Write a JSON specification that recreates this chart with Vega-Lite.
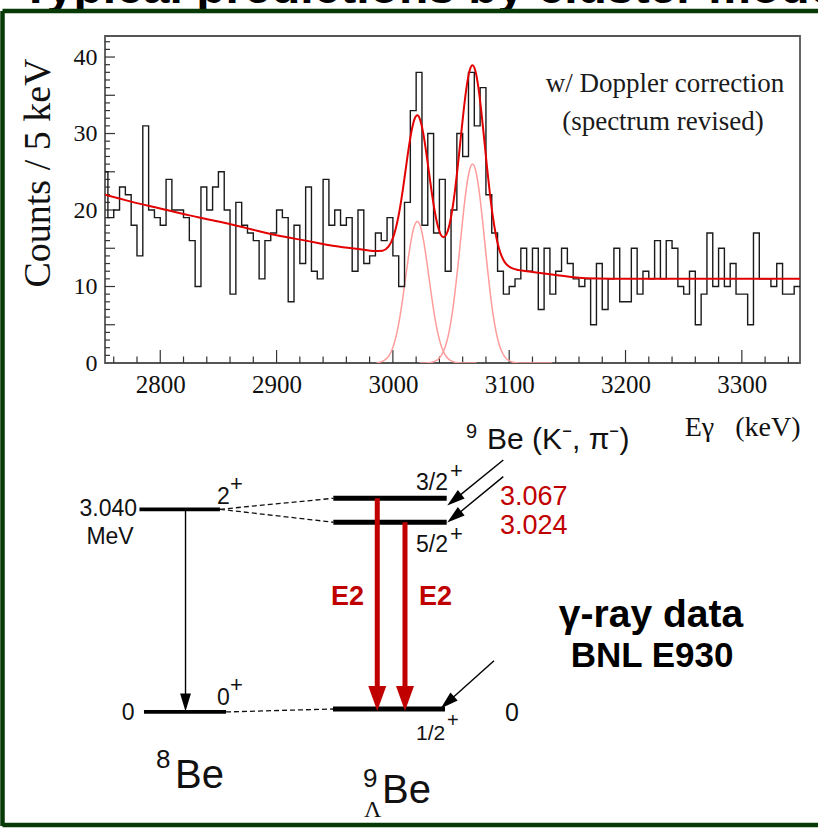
{
  "$schema": "https://vega.github.io/schema/vega-lite/v6.json",
  "width": 695,
  "height": 327,
  "autosize": {"type": "none"},
  "padding": {"left": 105, "top": 36, "right": 18, "bottom": 466},
  "background": "white",
  "config": {"view": {"stroke": null}},
  "datasets": {
    "hist": [
      {"E":2750,"c":25},{"E":2755,"c":19},{"E":2760,"c":20},{"E":2765,"c":23},{"E":2770,"c":22},{"E":2775,"c":18},{"E":2780,"c":14},{"E":2785,"c":31},{"E":2790,"c":20},{"E":2795,"c":19},
      {"E":2800,"c":18},{"E":2805,"c":24},{"E":2810,"c":20},{"E":2815,"c":20},{"E":2820,"c":19},{"E":2825,"c":16},{"E":2830,"c":10},{"E":2835,"c":23},{"E":2840,"c":20},{"E":2845,"c":23},
      {"E":2850,"c":25},{"E":2855,"c":20},{"E":2860,"c":9},{"E":2865,"c":21},{"E":2870,"c":18},{"E":2875,"c":17},{"E":2880,"c":16},{"E":2885,"c":11},{"E":2890,"c":16},{"E":2895,"c":17},
      {"E":2900,"c":20},{"E":2905,"c":19},{"E":2910,"c":8},{"E":2915,"c":18},{"E":2920,"c":13},{"E":2925,"c":23},{"E":2930,"c":12},{"E":2935,"c":11},{"E":2940,"c":24},{"E":2945,"c":18},
      {"E":2950,"c":20},{"E":2955,"c":18},{"E":2960,"c":19},{"E":2965,"c":12},{"E":2970,"c":20},{"E":2975,"c":13},{"E":2980,"c":14},{"E":2985,"c":17},{"E":2990,"c":16},{"E":2995,"c":19},
      {"E":3000,"c":14},{"E":3005,"c":10},{"E":3010,"c":21},{"E":3015,"c":33},{"E":3020,"c":38},{"E":3025,"c":18},{"E":3030,"c":30},{"E":3035,"c":17},{"E":3040,"c":24},{"E":3045,"c":12},
      {"E":3050,"c":20},{"E":3055,"c":30},{"E":3060,"c":27},{"E":3065,"c":38},{"E":3070,"c":31},{"E":3075,"c":36},{"E":3080,"c":22},{"E":3085,"c":17},{"E":3090,"c":12},{"E":3095,"c":9},
      {"E":3100,"c":10},{"E":3105,"c":11},{"E":3110,"c":15},{"E":3115,"c":12},{"E":3120,"c":15},{"E":3125,"c":7},{"E":3130,"c":15},{"E":3135,"c":9},{"E":3140,"c":12},{"E":3145,"c":15},
      {"E":3150,"c":13},{"E":3155,"c":11},{"E":3160,"c":10},{"E":3165,"c":11},{"E":3170,"c":5},{"E":3175,"c":13},{"E":3180,"c":7},{"E":3185,"c":11},{"E":3190,"c":15},{"E":3195,"c":8},
      {"E":3200,"c":8},{"E":3205,"c":15},{"E":3210,"c":9},{"E":3215,"c":12},{"E":3220,"c":11},{"E":3225,"c":16},{"E":3230,"c":11},{"E":3235,"c":16},{"E":3240,"c":15},{"E":3245,"c":10},
      {"E":3250,"c":9},{"E":3255,"c":12},{"E":3260,"c":5},{"E":3265,"c":9},{"E":3270,"c":17},{"E":3275,"c":10},{"E":3280,"c":15},{"E":3285,"c":10},{"E":3290,"c":13},{"E":3295,"c":9},
      {"E":3300,"c":9},{"E":3305,"c":5},{"E":3310,"c":17},{"E":3315,"c":11},{"E":3320,"c":11},{"E":3325,"c":10},{"E":3330,"c":13},{"E":3335,"c":9},{"E":3340,"c":9},{"E":3345,"c":10},{"E":3350,"c":10}
    ],
    "fit": [
      {"E":2752.5,"c":22.0},{"E":2775,"c":21.1},{"E":2800,"c":20.2},{"E":2825,"c":19.3},{"E":2850,"c":18.5},{"E":2875,"c":17.6},{"E":2900,"c":16.7},{"E":2925,"c":16.0},{"E":2950,"c":15.3},{"E":2970,"c":14.9},
      {"E":2985,"c":14.63},{"E":2991,"c":14.69},{"E":2996,"c":15.19},{"E":2998.5,"c":15.8},{"E":3001,"c":16.78},{"E":3003.5,"c":18.23},{"E":3006,"c":20.18},{"E":3008.5,"c":22.6},{"E":3011,"c":25.3},{"E":3013.5,"c":27.99},
      {"E":3016,"c":30.3},{"E":3018.5,"c":31.86},{"E":3021,"c":32.38},{"E":3023.5,"c":31.76},{"E":3026,"c":30.11},{"E":3028.5,"c":27.71},{"E":3031,"c":24.94},{"E":3033.5,"c":22.2},{"E":3036,"c":19.8},{"E":3038.5,"c":17.97},
      {"E":3041,"c":16.82},{"E":3043.5,"c":16.43},{"E":3046,"c":16.81},{"E":3048.5,"c":17.99},{"E":3051,"c":19.97},{"E":3053.5,"c":22.71},{"E":3056,"c":26.02},{"E":3058.5,"c":29.66},{"E":3061,"c":33.23},{"E":3063.5,"c":36.24},
      {"E":3066,"c":38.25},{"E":3068.5,"c":38.93},{"E":3071,"c":38.15},{"E":3073.5,"c":36.04},{"E":3076,"c":32.93},{"E":3078.5,"c":29.26},{"E":3081,"c":25.48},{"E":3083.5,"c":22.02},{"E":3086,"c":19.06},{"E":3088.5,"c":16.77},
      {"E":3091,"c":15.1},{"E":3093.5,"c":13.96},{"E":3096,"c":13.22},{"E":3098.5,"c":12.77},{"E":3101,"c":12.5},{"E":3106,"c":12.22},{"E":3111,"c":12.08},{"E":3120,"c":11.9},{"E":3130,"c":11.7},{"E":3140,"c":11.5},
      {"E":3150,"c":11.3},{"E":3160,"c":11.15},{"E":3175,"c":11.05},{"E":3200,"c":11.0},{"E":3250,"c":11.0},{"E":3300,"c":11.0},{"E":3350,"c":11.0}
    ],
    "g1": [
      {"E":2986,"c":0.04},{"E":2991,"c":0.21},{"E":2996,"c":0.81},{"E":2998.5,"c":1.47},{"E":3001,"c":2.5},{"E":3003.5,"c":4.0},{"E":3006,"c":6.0},{"E":3008.5,"c":8.47},{"E":3011,"c":11.22},{"E":3013.5,"c":13.96},
      {"E":3016,"c":16.32},{"E":3018.5,"c":17.93},{"E":3021,"c":18.5},{"E":3023.5,"c":17.93},{"E":3026,"c":16.32},{"E":3028.5,"c":13.96},{"E":3031,"c":11.22},{"E":3033.5,"c":8.47},{"E":3036,"c":6.0},{"E":3038.5,"c":4.0},
      {"E":3041,"c":2.5},{"E":3043.5,"c":1.47},{"E":3046,"c":0.81},{"E":3051,"c":0.21},{"E":3056,"c":0.04},{"E":3061,"c":0.0},{"E":3072,"c":0.0}
    ],
    "g2": [
      {"E":3023,"c":0.0},{"E":3031,"c":0.04},{"E":3036,"c":0.22},{"E":3041,"c":0.84},{"E":3043.5,"c":1.53},{"E":3046,"c":2.62},{"E":3048.5,"c":4.24},{"E":3051,"c":6.48},{"E":3053.5,"c":9.39},{"E":3056,"c":12.8},
      {"E":3058.5,"c":16.53},{"E":3061,"c":20.15},{"E":3063.5,"c":23.21},{"E":3066,"c":25.27},{"E":3068.5,"c":26.0},{"E":3071,"c":25.27},{"E":3073.5,"c":23.21},{"E":3076,"c":20.15},{"E":3078.5,"c":16.53},{"E":3081,"c":12.8},
      {"E":3083.5,"c":9.39},{"E":3086,"c":6.48},{"E":3088.5,"c":4.24},{"E":3091,"c":2.62},{"E":3093.5,"c":1.53},{"E":3096,"c":0.84},{"E":3101,"c":0.22},{"E":3106,"c":0.04},{"E":3111,"c":0.01},{"E":3137,"c":0.0}
    ],
    "frame": [{"x1":2752.5,"x2":3350,"y1":0,"y2":42.75}],
    "yminor": [{"v":1},{"v":2},{"v":3},{"v":4},{"v":6},{"v":7},{"v":8},{"v":9},{"v":11},{"v":12},{"v":13},{"v":14},{"v":16},{"v":17},{"v":18},{"v":19},{"v":21},{"v":22},{"v":23},{"v":24},{"v":26},{"v":27},{"v":28},{"v":29},{"v":31},{"v":32},{"v":33},{"v":34},{"v":36},{"v":37},{"v":38},{"v":39},{"v":41},{"v":42}],
    "ymajor": [{"v":5},{"v":10},{"v":15},{"v":20},{"v":25},{"v":30},{"v":35},{"v":40}],
    "xminor": [{"v":2760},{"v":2780},{"v":2820},{"v":2840},{"v":2860},{"v":2880},{"v":2920},{"v":2940},{"v":2960},{"v":2980},{"v":3020},{"v":3040},{"v":3060},{"v":3080},{"v":3120},{"v":3140},{"v":3160},{"v":3180},{"v":3220},{"v":3240},{"v":3260},{"v":3280},{"v":3320},{"v":3340}],
    "xmajor": [{"v":2800},{"v":2900},{"v":3000},{"v":3100},{"v":3200},{"v":3300}],
    "border": [{"u":0.306,"v":98.67,"u2":0.306,"v2":0.362},{"u":0.306,"v":98.67,"u2":100.5,"v2":98.67},{"u":0.306,"v":0.483,"u2":100.5,"v2":0.483}],
    "lev8": [{"u":17.05,"v":38.56,"u2":26.89,"v2":38.56},{"u":17.6,"v":14.11,"u2":27.63,"v2":14.11}],
    "lev9": [{"u":40.75,"v":39.89,"u2":54.61,"v2":39.89},{"u":40.75,"v":37.0,"u2":54.61,"v2":37.0},{"u":40.71,"v":14.47,"u2":54.4,"v2":14.47}],
    "dashed": [{"u":26.89,"v":38.56,"u2":40.75,"v2":39.89},{"u":26.89,"v":38.56,"u2":40.75,"v2":37.0},{"u":27.63,"v":14.11,"u2":40.71,"v2":14.47}],
    "bshaft": [{"u":22.68,"v":38.48,"u2":22.68,"v2":16.04},{"u":61.53,"v":44.51,"u2":55.53,"v2":39.7},{"u":61.53,"v":42.5,"u2":55.53,"v2":37.64},{"u":60.39,"v":20.3,"u2":54.69,"v2":15.24}],
    "bhead": [{"u":22.68,"v":15.26,"a":0},{"u":55.53,"v":39.7,"a":51},{"u":55.53,"v":37.64,"a":51},{"u":54.69,"v":15.24,"a":48}],
    "rshaft": [{"u":46.12,"v":39.89,"u2":46.12,"v2":16.77},{"u":49.51,"v":37.0,"u2":49.51,"v2":16.77}],
    "rhead": [{"u":46.12,"v":15.74},{"u":49.51,"v":15.74}]
  },
  "layer": [
    {
      "data": {"name": "frame"},
      "mark": {"type": "rect", "filled": false, "stroke": "#555555", "strokeWidth": 1.8},
      "encoding": {
        "x": {"field": "x1", "type": "quantitative", "scale": {"domain": [2752.5, 3350], "nice": false, "zero": false},
              "axis": {"orient": "bottom", "values": [2800, 2900, 3000, 3100, 3200, 3300], "format": "d", "ticks": false, "domain": false, "grid": false, "labelFont": "Liberation Serif", "labelFontSize": 25, "labelColor": "#111", "labelPadding": 9, "title": "E\u03b3\u00a0\u00a0\u00a0(keV)", "titleFont": "Liberation Serif", "titleFontSize": 28, "titleFontWeight": "normal", "titleColor": "#111", "titleAnchor": "end", "titlePadding": 16}},
        "x2": {"field": "x2"},
        "y": {"field": "y1", "type": "quantitative", "scale": {"domain": [0, 42.75], "nice": false, "zero": false},
              "axis": {"orient": "left", "values": [0, 10, 20, 30, 40], "ticks": false, "domain": false, "grid": false, "labelFont": "Liberation Serif", "labelFontSize": 24, "labelColor": "#111", "labelPadding": 8, "title": "Counts / 5 keV", "titleFont": "Liberation Serif", "titleFontSize": 38, "titleFontWeight": "normal", "titleColor": "#111", "titleAnchor": "end", "titleY": 22, "titlePadding": 16}},
        "y2": {"field": "y2"}
      }
    },
    {
      "data": {"name": "yminor"},
      "mark": {"type": "rule", "color": "#333", "strokeWidth": 1.2},
      "encoding": {
        "y": {"field": "v", "type": "quantitative", "scale": {"domain": [0, 42.75], "nice": false, "zero": false}, "axis": null},
        "x": {"datum": 2752.5, "type": "quantitative", "scale": {"domain": [2752.5, 3350], "nice": false, "zero": false}, "axis": null},
        "x2": {"datum": 2756.8}
      }
    },
    {
      "data": {"name": "ymajor"},
      "mark": {"type": "rule", "color": "#333", "strokeWidth": 1.2},
      "encoding": {
        "y": {"field": "v", "type": "quantitative", "scale": {"domain": [0, 42.75], "nice": false, "zero": false}, "axis": null},
        "x": {"datum": 2752.5, "type": "quantitative", "scale": {"domain": [2752.5, 3350], "nice": false, "zero": false}, "axis": null},
        "x2": {"datum": 2761.1}
      }
    },
    {
      "data": {"name": "xminor"},
      "mark": {"type": "rule", "color": "#333", "strokeWidth": 1.2},
      "encoding": {
        "x": {"field": "v", "type": "quantitative", "scale": {"domain": [2752.5, 3350], "nice": false, "zero": false}, "axis": null},
        "y": {"datum": 0, "type": "quantitative", "scale": {"domain": [0, 42.75], "nice": false, "zero": false}, "axis": null},
        "y2": {"datum": 0.85}
      }
    },
    {
      "data": {"name": "xmajor"},
      "mark": {"type": "rule", "color": "#333", "strokeWidth": 1.2},
      "encoding": {
        "x": {"field": "v", "type": "quantitative", "scale": {"domain": [2752.5, 3350], "nice": false, "zero": false}, "axis": null},
        "y": {"datum": 0, "type": "quantitative", "scale": {"domain": [0, 42.75], "nice": false, "zero": false}, "axis": null},
        "y2": {"datum": 1.7}
      }
    },
    {
      "data": {"name": "g1"},
      "mark": {"type": "line", "interpolate": "monotone", "color": "#ff9c9c", "strokeWidth": 1.5, "clip": true},
      "encoding": {
        "x": {"field": "E", "type": "quantitative", "scale": {"domain": [2752.5, 3350], "nice": false, "zero": false}, "axis": null},
        "y": {"field": "c", "type": "quantitative", "scale": {"domain": [0, 42.75], "nice": false, "zero": false}, "axis": null}
      }
    },
    {
      "data": {"name": "g2"},
      "mark": {"type": "line", "interpolate": "monotone", "color": "#ff9c9c", "strokeWidth": 1.5, "clip": true},
      "encoding": {
        "x": {"field": "E", "type": "quantitative", "scale": {"domain": [2752.5, 3350], "nice": false, "zero": false}, "axis": null},
        "y": {"field": "c", "type": "quantitative", "scale": {"domain": [0, 42.75], "nice": false, "zero": false}, "axis": null}
      }
    },
    {
      "data": {"name": "hist"},
      "mark": {"type": "line", "interpolate": "step-after", "color": "#1a1a1a", "strokeWidth": 1.4, "clip": true},
      "encoding": {
        "x": {"field": "E", "type": "quantitative", "scale": {"domain": [2752.5, 3350], "nice": false, "zero": false}, "axis": null},
        "y": {"field": "c", "type": "quantitative", "scale": {"domain": [0, 42.75], "nice": false, "zero": false}, "axis": null}
      }
    },
    {
      "data": {"name": "fit"},
      "mark": {"type": "line", "interpolate": "monotone", "color": "#e30000", "strokeWidth": 2, "clip": true},
      "encoding": {
        "x": {"field": "E", "type": "quantitative", "scale": {"domain": [2752.5, 3350], "nice": false, "zero": false}, "axis": null},
        "y": {"field": "c", "type": "quantitative", "scale": {"domain": [0, 42.75], "nice": false, "zero": false}, "axis": null}
      }
    },
    {
      "data": {"values": [{"E": 3233.9, "c": 36.47, "t": "w/ Doppler correction"}, {"E": 3232.2, "c": 31.51, "t": "(spectrum revised)"}]},
      "mark": {"type": "text", "font": "Liberation Serif", "fontSize": 27, "align": "center", "baseline": "middle", "color": "#1a1a1a"},
      "encoding": {
        "x": {"field": "E", "type": "quantitative", "scale": {"domain": [2752.5, 3350], "nice": false, "zero": false}, "axis": null},
        "y": {"field": "c", "type": "quantitative", "scale": {"domain": [0, 42.75], "nice": false, "zero": false}, "axis": null},
        "text": {"field": "t"}
      }
    },
    {
      "data": {"values": [{"u": 2.57, "v": 99.64, "t": "Typical predictions by cluster model"}]},
      "mark": {"type": "text", "font": "Liberation Sans", "fontSize": 48, "fontWeight": "bold", "align": "left", "baseline": "alphabetic", "color": "#000"},
      "encoding": {
        "x": {"field": "u", "type": "quantitative", "scale": {"domain": [12.836, 97.8], "nice": false, "zero": false}, "axis": null},
        "y": {"field": "v", "type": "quantitative", "scale": {"domain": [56.21, 95.66], "nice": false, "zero": false}, "axis": null},
        "text": {"field": "t"}
      }
    },
    {
      "data": {"name": "border"},
      "mark": {"type": "rule", "color": "#073a07", "strokeWidth": 4.5},
      "encoding": {
        "x": {"field": "u", "type": "quantitative", "scale": {"domain": [12.836, 97.8], "nice": false, "zero": false}, "axis": null},
        "y": {"field": "v", "type": "quantitative", "scale": {"domain": [56.21, 95.66], "nice": false, "zero": false}, "axis": null},
        "x2": {"field": "u2"}, "y2": {"field": "v2"}
      }
    },
    {
      "data": {"name": "dashed"},
      "mark": {"type": "rule", "color": "#111", "strokeWidth": 1.3, "strokeDash": [5, 3]},
      "encoding": {
        "x": {"field": "u", "type": "quantitative", "scale": {"domain": [12.836, 97.8], "nice": false, "zero": false}, "axis": null},
        "y": {"field": "v", "type": "quantitative", "scale": {"domain": [56.21, 95.66], "nice": false, "zero": false}, "axis": null},
        "x2": {"field": "u2"}, "y2": {"field": "v2"}
      }
    },
    {
      "data": {"name": "lev8"},
      "mark": {"type": "rule", "color": "#000", "strokeWidth": 3.8},
      "encoding": {
        "x": {"field": "u", "type": "quantitative", "scale": {"domain": [12.836, 97.8], "nice": false, "zero": false}, "axis": null},
        "y": {"field": "v", "type": "quantitative", "scale": {"domain": [56.21, 95.66], "nice": false, "zero": false}, "axis": null},
        "x2": {"field": "u2"}, "y2": {"field": "v2"}
      }
    },
    {
      "data": {"name": "lev9"},
      "mark": {"type": "rule", "color": "#000", "strokeWidth": 5},
      "encoding": {
        "x": {"field": "u", "type": "quantitative", "scale": {"domain": [12.836, 97.8], "nice": false, "zero": false}, "axis": null},
        "y": {"field": "v", "type": "quantitative", "scale": {"domain": [56.21, 95.66], "nice": false, "zero": false}, "axis": null},
        "x2": {"field": "u2"}, "y2": {"field": "v2"}
      }
    },
    {
      "data": {"name": "bshaft"},
      "mark": {"type": "rule", "color": "#000", "strokeWidth": 1.4},
      "encoding": {
        "x": {"field": "u", "type": "quantitative", "scale": {"domain": [12.836, 97.8], "nice": false, "zero": false}, "axis": null},
        "y": {"field": "v", "type": "quantitative", "scale": {"domain": [56.21, 95.66], "nice": false, "zero": false}, "axis": null},
        "x2": {"field": "u2"}, "y2": {"field": "v2"}
      }
    },
    {
      "data": {"name": "bhead"},
      "mark": {"type": "point", "shape": "M-0.6,-1L0.6,-1L0,1Z", "size": 324, "filled": true, "color": "#000", "opacity": 1, "strokeWidth": 0},
      "encoding": {
        "x": {"field": "u", "type": "quantitative", "scale": {"domain": [12.836, 97.8], "nice": false, "zero": false}, "axis": null},
        "y": {"field": "v", "type": "quantitative", "scale": {"domain": [56.21, 95.66], "nice": false, "zero": false}, "axis": null},
        "angle": {"field": "a", "type": "quantitative", "scale": null}
      }
    },
    {
      "data": {"name": "rshaft"},
      "mark": {"type": "rule", "color": "#c00000", "strokeWidth": 5},
      "encoding": {
        "x": {"field": "u", "type": "quantitative", "scale": {"domain": [12.836, 97.8], "nice": false, "zero": false}, "axis": null},
        "y": {"field": "v", "type": "quantitative", "scale": {"domain": [56.21, 95.66], "nice": false, "zero": false}, "axis": null},
        "x2": {"field": "u2"}, "y2": {"field": "v2"}
      }
    },
    {
      "data": {"name": "rhead"},
      "mark": {"type": "point", "shape": "M-0.72,-1L0.72,-1L0,1Z", "size": 625, "filled": true, "color": "#c00000", "opacity": 1, "strokeWidth": 0},
      "encoding": {
        "x": {"field": "u", "type": "quantitative", "scale": {"domain": [12.836, 97.8], "nice": false, "zero": false}, "axis": null},
        "y": {"field": "v", "type": "quantitative", "scale": {"domain": [56.21, 95.66], "nice": false, "zero": false}, "axis": null}
      }
    },
    {
      "data": {"values": [{"u": 16.75, "v": 38.6, "t": "3.040"}]},
      "mark": {"type": "text", "font": "Liberation Sans", "fontSize": 23, "align": "right", "baseline": "middle", "color": "#111"},
      "encoding": {
        "x": {"field": "u", "type": "quantitative", "scale": {"domain": [12.836, 97.8], "nice": false, "zero": false}, "axis": null},
        "y": {"field": "v", "type": "quantitative", "scale": {"domain": [56.21, 95.66], "nice": false, "zero": false}, "axis": null},
        "text": {"field": "t"}
      }
    },
    {
      "data": {"values": [{"u": 13.45, "v": 35.22, "t": "MeV"}, {"u": 15.65, "v": 13.99, "t": "0"}]},
      "mark": {"type": "text", "font": "Liberation Sans", "fontSize": 23, "align": "center", "baseline": "middle", "color": "#111"},
      "encoding": {
        "x": {"field": "u", "type": "quantitative", "scale": {"domain": [12.836, 97.8], "nice": false, "zero": false}, "axis": null},
        "y": {"field": "v", "type": "quantitative", "scale": {"domain": [56.21, 95.66], "nice": false, "zero": false}, "axis": null},
        "text": {"field": "t"}
      }
    },
    {
      "data": {"values": [{"u": 62.59, "v": 13.99, "t": "0"}]},
      "mark": {"type": "text", "font": "Liberation Sans", "fontSize": 25, "align": "center", "baseline": "middle", "color": "#111"},
      "encoding": {
        "x": {"field": "u", "type": "quantitative", "scale": {"domain": [12.836, 97.8], "nice": false, "zero": false}, "axis": null},
        "y": {"field": "v", "type": "quantitative", "scale": {"domain": [56.21, 95.66], "nice": false, "zero": false}, "axis": null},
        "text": {"field": "t"}
      }
    },
    {
      "data": {"values": [{"u": 26.53, "v": 40.05, "t": "2"}, {"u": 26.53, "v": 15.8, "t": "0"}, {"u": 50.86, "v": 41.74, "t": "3/2"}, {"u": 50.86, "v": 34.26, "t": "5/2"}]},
      "mark": {"type": "text", "font": "Liberation Sans", "fontSize": 23, "align": "left", "baseline": "middle", "color": "#111"},
      "encoding": {
        "x": {"field": "u", "type": "quantitative", "scale": {"domain": [12.836, 97.8], "nice": false, "zero": false}, "axis": null},
        "y": {"field": "v", "type": "quantitative", "scale": {"domain": [56.21, 95.66], "nice": false, "zero": false}, "axis": null},
        "text": {"field": "t"}
      }
    },
    {
      "data": {"values": [{"u": 50.86, "v": 11.46, "t": "1/2"}]},
      "mark": {"type": "text", "font": "Liberation Sans", "fontSize": 21, "align": "left", "baseline": "middle", "color": "#111"},
      "encoding": {
        "x": {"field": "u", "type": "quantitative", "scale": {"domain": [12.836, 97.8], "nice": false, "zero": false}, "axis": null},
        "y": {"field": "v", "type": "quantitative", "scale": {"domain": [56.21, 95.66], "nice": false, "zero": false}, "axis": null},
        "text": {"field": "t"}
      }
    },
    {
      "data": {"values": [{"u": 28.12, "v": 41.62, "t": "+"}, {"u": 28.12, "v": 17.37, "t": "+"}, {"u": 55.01, "v": 43.18, "t": "+"}, {"u": 55.01, "v": 35.58, "t": "+"}]},
      "mark": {"type": "text", "font": "Liberation Sans", "fontSize": 22, "align": "left", "baseline": "middle", "color": "#111"},
      "encoding": {
        "x": {"field": "u", "type": "quantitative", "scale": {"domain": [12.836, 97.8], "nice": false, "zero": false}, "axis": null},
        "y": {"field": "v", "type": "quantitative", "scale": {"domain": [56.21, 95.66], "nice": false, "zero": false}, "axis": null},
        "text": {"field": "t"}
      }
    },
    {
      "data": {"values": [{"u": 54.65, "v": 13.03, "t": "+"}, {"u": 56.97, "v": 47.89, "t": "9"}]},
      "mark": {"type": "text", "font": "Liberation Sans", "fontSize": 20, "align": "left", "baseline": "middle", "color": "#111"},
      "encoding": {
        "x": {"field": "u", "type": "quantitative", "scale": {"domain": [12.836, 97.8], "nice": false, "zero": false}, "axis": null},
        "y": {"field": "v", "type": "quantitative", "scale": {"domain": [56.21, 95.66], "nice": false, "zero": false}, "axis": null},
        "text": {"field": "t"}
      }
    },
    {
      "data": {"values": [{"u": 59.54, "v": 46.92, "t": "Be (K⁻, π⁻)"}]},
      "mark": {"type": "text", "font": "Liberation Sans", "fontSize": 30, "align": "left", "baseline": "middle", "color": "#111"},
      "encoding": {
        "x": {"field": "u", "type": "quantitative", "scale": {"domain": [12.836, 97.8], "nice": false, "zero": false}, "axis": null},
        "y": {"field": "v", "type": "quantitative", "scale": {"domain": [56.21, 95.66], "nice": false, "zero": false}, "axis": null},
        "text": {"field": "t"}
      }
    },
    {
      "data": {"values": [{"u": 19.07, "v": 8.32, "t": "8"}, {"u": 44.38, "v": 6.03, "t": "9"}]},
      "mark": {"type": "text", "font": "Liberation Sans", "fontSize": 26, "align": "left", "baseline": "middle", "color": "#111"},
      "encoding": {
        "x": {"field": "u", "type": "quantitative", "scale": {"domain": [12.836, 97.8], "nice": false, "zero": false}, "axis": null},
        "y": {"field": "v", "type": "quantitative", "scale": {"domain": [56.21, 95.66], "nice": false, "zero": false}, "axis": null},
        "text": {"field": "t"}
      }
    },
    {
      "data": {"values": [{"u": 21.39, "v": 6.39, "t": "Be"}, {"u": 46.7, "v": 4.58, "t": "Be"}]},
      "mark": {"type": "text", "font": "Liberation Sans", "fontSize": 40, "align": "left", "baseline": "middle", "color": "#111"},
      "encoding": {
        "x": {"field": "u", "type": "quantitative", "scale": {"domain": [12.836, 97.8], "nice": false, "zero": false}, "axis": null},
        "y": {"field": "v", "type": "quantitative", "scale": {"domain": [56.21, 95.66], "nice": false, "zero": false}, "axis": null},
        "text": {"field": "t"}
      }
    },
    {
      "data": {"values": [{"u": 44.5, "v": 2.29, "t": "Λ"}]},
      "mark": {"type": "text", "font": "Liberation Serif", "fontSize": 24, "align": "left", "baseline": "middle", "color": "#111"},
      "encoding": {
        "x": {"field": "u", "type": "quantitative", "scale": {"domain": [12.836, 97.8], "nice": false, "zero": false}, "axis": null},
        "y": {"field": "v", "type": "quantitative", "scale": {"domain": [56.21, 95.66], "nice": false, "zero": false}, "axis": null},
        "text": {"field": "t"}
      }
    },
    {
      "data": {"values": [{"u": 61.12, "v": 40.05, "t": "3.067"}, {"u": 61.12, "v": 36.55, "t": "3.024"}]},
      "mark": {"type": "text", "font": "Liberation Sans", "fontSize": 27, "align": "left", "baseline": "middle", "color": "#c00000"},
      "encoding": {
        "x": {"field": "u", "type": "quantitative", "scale": {"domain": [12.836, 97.8], "nice": false, "zero": false}, "axis": null},
        "y": {"field": "v", "type": "quantitative", "scale": {"domain": [56.21, 95.66], "nice": false, "zero": false}, "axis": null},
        "text": {"field": "t"}
      }
    },
    {
      "data": {"values": [{"u": 42.48, "v": 27.99, "t": "E2"}, {"u": 53.24, "v": 27.99, "t": "E2"}]},
      "mark": {"type": "text", "font": "Liberation Sans", "fontSize": 27, "fontWeight": "bold", "align": "center", "baseline": "middle", "color": "#c00000"},
      "encoding": {
        "x": {"field": "u", "type": "quantitative", "scale": {"domain": [12.836, 97.8], "nice": false, "zero": false}, "axis": null},
        "y": {"field": "v", "type": "quantitative", "scale": {"domain": [56.21, 95.66], "nice": false, "zero": false}, "axis": null},
        "text": {"field": "t"}
      }
    },
    {
      "data": {"values": [{"u": 79.58, "v": 25.81, "t": "γ-ray data"}]},
      "mark": {"type": "text", "font": "Liberation Sans", "fontSize": 39, "fontWeight": "bold", "align": "center", "baseline": "middle", "color": "#000"},
      "encoding": {
        "x": {"field": "u", "type": "quantitative", "scale": {"domain": [12.836, 97.8], "nice": false, "zero": false}, "axis": null},
        "y": {"field": "v", "type": "quantitative", "scale": {"domain": [56.21, 95.66], "nice": false, "zero": false}, "axis": null},
        "text": {"field": "t"}
      }
    },
    {
      "data": {"values": [{"u": 79.71, "v": 20.87, "t": "BNL E930"}]},
      "mark": {"type": "text", "font": "Liberation Sans", "fontSize": 35, "fontWeight": "bold", "align": "center", "baseline": "middle", "color": "#000"},
      "encoding": {
        "x": {"field": "u", "type": "quantitative", "scale": {"domain": [12.836, 97.8], "nice": false, "zero": false}, "axis": null},
        "y": {"field": "v", "type": "quantitative", "scale": {"domain": [56.21, 95.66], "nice": false, "zero": false}, "axis": null},
        "text": {"field": "t"}
      }
    }
  ],
  "resolve": {"scale": {"x": "independent", "y": "independent"}}
}
